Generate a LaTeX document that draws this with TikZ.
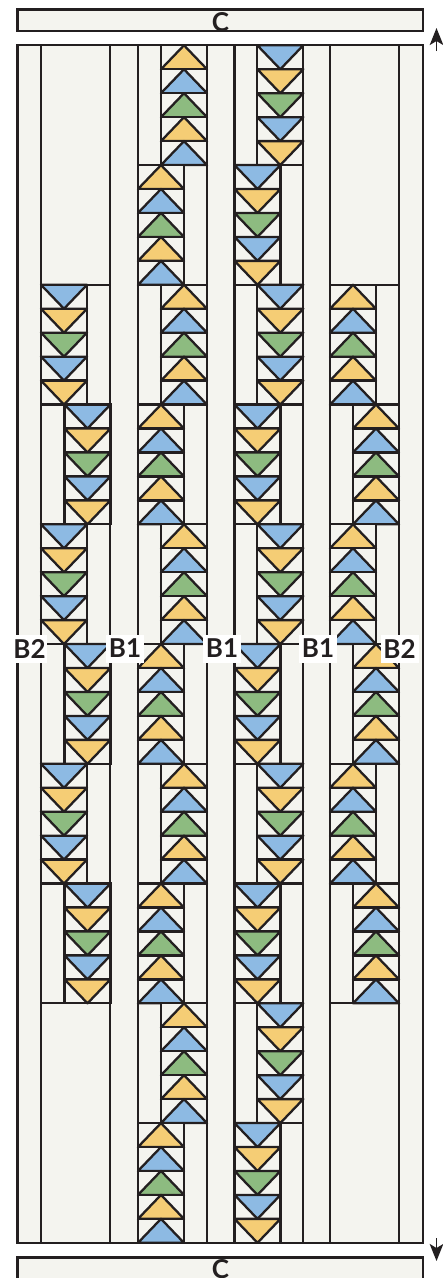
\documentclass[tikz,border=0pt]{standalone}
\usepackage{fontspec}
\setmainfont{Lato}
\usetikzlibrary{arrows.meta}
\definecolor{qbg}{HTML}{F4F4EF}
\definecolor{qb}{HTML}{8DBAE3}
\definecolor{qy}{HTML}{F5CD75}
\definecolor{qg}{HTML}{8DBB80}
\definecolor{qk}{HTML}{231F20}
\tikzset{
  seam/.style={draw=qk,line width=2.3pt,line join=miter},
  patch/.style={seam,fill=qbg},
  tri/.style={seam,line join=round},
  tag/.style={fill=white,inner sep=0pt,minimum width=38pt,minimum height=28pt,text=qk,font=\fontsize{26}{26}\selectfont\bfseries},
  cmark/.style={inner sep=0pt,text=qk,font=\fontsize{26}{26}\selectfont\bfseries},
  wayarrow/.style={draw=qk,line width=1.7pt,-{Stealth[length=17pt,width=13.5pt,inset=4pt]}}
}
\def\cw{46}
\def\ch{23.95}
% up block: #1 left x, #2 top y
\newcommand\upblock[2]{%
  \foreach \c [count=\i from 0] in {qy,qb,qg,qy,qb}{%
    \pgfmathsetmacro\yt{#2+\ch*\i}\pgfmathsetmacro\yb{\yt+\ch}%
    \pgfmathsetmacro\xr{#1+\cw}\pgfmathsetmacro\xm{#1+\cw/2}%
    \draw[patch] (#1,\yt) rectangle (\xr,\yb);
    \draw[tri,fill=\c] (#1,\yb) -- (\xm,\yt) -- (\xr,\yb) -- cycle;
  }}
% down block
\newcommand\downblock[2]{%
  \foreach \c [count=\i from 0] in {qb,qy,qg,qb,qy}{%
    \pgfmathsetmacro\yt{#2+\ch*\i}\pgfmathsetmacro\yb{\yt+\ch}%
    \pgfmathsetmacro\xr{#1+\cw}\pgfmathsetmacro\xm{#1+\cw/2}%
    \draw[patch] (#1,\yt) rectangle (\xr,\yb);
    \draw[tri,fill=\c] (#1,\yt) -- (\xm,\yb) -- (\xr,\yt) -- cycle;
  }}
\begin{document}
\begin{tikzpicture}[x=1pt,y=-1pt]
\useasboundingbox (0,0) rectangle (443,1278);
\clip (0,0) rectangle (443,1278);
\fill[white] (0,0) rectangle (443,1278);
% C borders
\draw[patch] (17.5,9.5) rectangle (423.3,31);
\draw[patch] (17.5,1257.5) rectangle (423.3,1290);
% main field
\fill[qbg] (17.5,45.3) rectangle (423.3,1243);
% column 1 (down)
\foreach \k/\xx in {2/41,3/64.5,4/41,5/64.5,6/41,7/64.5}{
  \pgfmathsetmacro\yy{45.3+\k*119.75}
  \downblock{\xx}{\yy}
}
% column 2 (up)
\foreach \k/\xx in {0/161,1/138,2/161,3/138,4/161,5/138,6/161,7/138,8/161,9/138}{
  \pgfmathsetmacro\yy{45.3+\k*119.75}
  \upblock{\xx}{\yy}
}
% column 3 (down)
\foreach \k/\xx in {0/257.3,1/234.5,2/257.3,3/234.5,4/257.3,5/234.5,6/257.3,7/234.5,8/257.3,9/234.5}{
  \pgfmathsetmacro\yy{45.3+\k*119.75}
  \downblock{\xx}{\yy}
}
% column 4 (up)
\foreach \k/\xx in {2/330,3/353,4/330,5/353,6/330,7/353}{
  \pgfmathsetmacro\yy{45.3+\k*119.75}
  \upblock{\xx}{\yy}
}
% block seams across the columns and sashing lines
\foreach \k in {1,...,9}{
  \pgfmathsetmacro\yy{45.3+\k*119.75}
  \draw[seam] (138,\yy) -- (207,\yy);
  \draw[seam] (234.5,\yy) -- (303.3,\yy);
}
\foreach \k in {2,...,8}{
  \pgfmathsetmacro\yy{45.3+\k*119.75}
  \draw[seam] (41,\yy) -- (110.3,\yy);
  \draw[seam] (330,\yy) -- (399,\yy);
}
\foreach \xx in {41,110.3,138,207,234.5,303.3,330,399}{
  \draw[seam] (\xx,45.3) -- (\xx,1243);
}
\draw[seam] (17.5,45.3) rectangle (423.3,1243);
% labels
\node[cmark] (ctop) at (220.5,22) {C};
\node[cmark] (cbot) at (220.5,1269) {C};
\node[tag,minimum width=35pt] (l1) at (29.5,648.5) {B2};
\node[tag] (l2) at (125,648.5) {B1};
\node[tag] (l3) at (222,648.5) {B1};
\node[tag] (l4) at (318,648.5) {B1};
\node[tag] (l5) at (399.5,648.5) {B2};
% arrows
\coordinate (a1s) at (436.5,51);
\coordinate (a1e) at (436.5,28);
\coordinate (a2s) at (436.5,1238);
\coordinate (a2e) at (436.5,1261);
\draw[wayarrow] (a1s) -- (a1e);
\draw[wayarrow] (a2s) -- (a2e);
\end{tikzpicture}
\end{document}
